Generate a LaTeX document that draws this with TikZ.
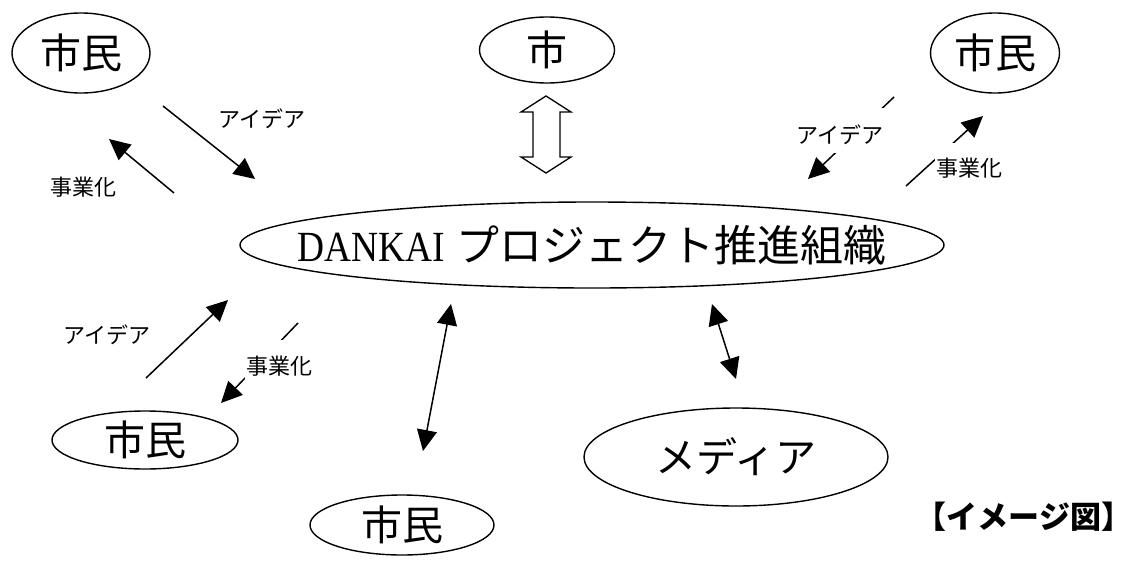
\documentclass[tikz,border=0pt]{standalone}
\usepackage{fontspec}
\usepackage{graphicx}
\setmainfont{Liberation Serif}
\newfontfamily\jp{Noto Sans CJK JP}
\usetikzlibrary{shapes.geometric,arrows.meta}
\begin{document}
\begin{tikzpicture}[x=1pt,y=-1pt,
  oval/.style={draw, ellipse, line width=1.4pt, inner sep=0pt},
  big/.style={font=\jp\fontsize{41}{41}\selectfont},
  lab/.style={font=\jp\fontsize{22}{22}\selectfont, inner sep=0pt},
  arr/.style={line width=1.5pt, -{Triangle[length=21pt,width=20pt]}},
  darr/.style={line width=1.5pt, {Triangle[length=21pt,width=20pt]}-{Triangle[length=21pt,width=20pt]}},
  gap/.style={fill=white, inner xsep=1pt, inner ysep=0pt}
]
\useasboundingbox (0,0) rectangle (1132,560);

% ellipses
\node[oval, big, minimum width=138, minimum height=80] (c1) at (81,53) {市民};
\node[oval, big, minimum width=135, minimum height=66] (city) at (547,50) {市};
\node[oval, big, minimum width=129, minimum height=80] (c2) at (995,53) {市民};
\node[oval, minimum width=704, minimum height=86] (org) at (592,245)
  {\makebox[0pt][c]{\fontsize{43}{43}\selectfont\scalebox{0.87}[1]{DANKAI} {\jp プロジェクト推進組織}}};
\node[oval, big, minimum width=186, minimum height=58] (c3) at (145,440) {市民};
\node[oval, big, minimum width=184, minimum height=60] (c4) at (402,525) {市民};
\node[oval, big, minimum width=304, minimum height=98] (media) at (736,457) {メディア};

% block double arrow between 市 and organisation
\draw[line width=1.3pt, fill=white] (546,96) -- (571,112) -- (560,112) -- (560,157)
  -- (571,157) -- (546,173) -- (521,157) -- (533,157) -- (533,112) -- (521,112) -- cycle;

% top-left
\coordinate (a1s) at (163,106); \coordinate (a1e) at (255,179);
\draw[arr] (a1s) -- (a1e);
\node[lab, anchor=base west] (l1) at (218,127) {アイデア};
\coordinate (b1s) at (174,193); \coordinate (b1e) at (109,139);
\draw[arr] (b1s) -- (b1e);
\node[lab, anchor=base west] (l2) at (50,195) {事業化};

% top-right
\coordinate (a2s) at (894,97); \coordinate (a2e) at (808,179);
\draw[arr] (a2s) -- (a2e);
\node[lab, gap, anchor=base west, text height=35pt, text depth=10pt] (l3) at (795,143) {アイデア};
\coordinate (b2s) at (906,186); \coordinate (b2e) at (983,116);
\draw[arr] (b2s) -- (b2e);
\node[lab, gap, anchor=base west, text height=33pt, text depth=6pt] (l4) at (935,176) {事業化};

% bottom-left
\coordinate (a3s) at (146,378); \coordinate (a3e) at (228,300);
\draw[arr] (a3s) -- (a3e);
\node[lab, anchor=base west] (l5) at (63,343) {アイデア};
\coordinate (b3s) at (298,323); \coordinate (b3e) at (221,403);
\draw[arr] (b3s) -- (b3e);
\node[lab, gap, anchor=base west, text height=34pt, text depth=5pt] (l6) at (245,374) {事業化};

% double arrows
\coordinate (d1a) at (451,304); \coordinate (d1b) at (423,451);
\draw[darr] (d1a) -- (d1b);
\coordinate (d2a) at (712,304); \coordinate (d2b) at (736,379);
\draw[darr] (d2a) -- (d2b);

% title
\node[font=\jp\bfseries\fontsize{31}{31}\selectfont, anchor=base, inner sep=0pt] (title) at (1024,528) {【イメージ図】};
\end{tikzpicture}
\end{document}
